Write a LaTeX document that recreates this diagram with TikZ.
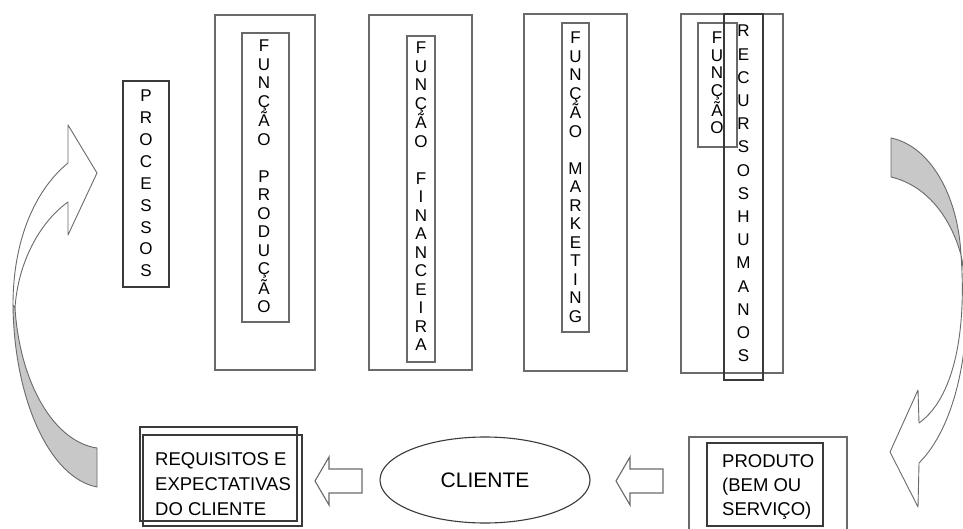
\documentclass[tikz,border=0pt]{standalone}
\usepackage{fontspec}
\setmainfont{Liberation Sans}
\usetikzlibrary{shapes.geometric}
\definecolor{ln}{HTML}{6A6A6A}
\definecolor{dk}{HTML}{3A3A3A}
\definecolor{gf}{HTML}{C8C8C8}
\begin{document}
\begin{tikzpicture}[x=1pt,y=-1pt,
  box/.style={draw=ln, line width=1.1pt, rectangle, inner sep=0pt},
  darkbox/.style={draw=dk, line width=1.3pt, rectangle, inner sep=0pt},
  vt/.style={align=center, inner sep=0pt},
  bt/.style={inner sep=0pt, anchor=base west, font=\fontsize{18.5}{24}\selectfont},
  band/.style={draw=ln, line width=0.9pt, line join=round},
  blockarrow/.style={draw=ln, line width=1.1pt, fill=white, line join=miter}]
\useasboundingbox (0,0) rectangle (963,529);
\clip (0,0) rectangle (963,529);
\fill[white] (0,0) rectangle (963,529);

% ---- PROCESSOS
\node[darkbox, line width=1.8pt, minimum width=46pt, minimum height=206pt] (proc) at (146,184) {};
\node[vt, font=\fontsize{17}{21.9}\selectfont] (tproc) at (146,183.5) {P\\R\\O\\C\\E\\S\\S\\O\\S};

% ---- Funcao producao
\node[box, minimum width=100pt, minimum height=355pt] (out1) at (265,192.5) {};
\node[box, minimum width=47pt, minimum height=289pt] (in1) at (265.5,177.5) {};
\node[vt, font=\fontsize{17}{18.5}\selectfont] (t1) at (264,176.5) {F\\U\\N\\Ç\\Ã\\O\\~\\P\\R\\O\\D\\U\\Ç\\Ã\\O};

% ---- Funcao financeira
\node[box, minimum width=103pt, minimum height=355pt] (out2) at (420.5,192.5) {};
\node[box, minimum width=28pt, minimum height=326pt] (in2) at (421,199) {};
\node[vt, font=\fontsize{17}{18.5}\selectfont] (t2) at (421,196.5) {F\\U\\N\\Ç\\Ã\\O\\~\\F\\I\\N\\A\\N\\C\\E\\I\\R\\A};

% ---- Funcao marketing
\node[box, minimum width=103pt, minimum height=357pt] (out3) at (575.5,192.5) {};
\node[box, minimum width=27pt, minimum height=309pt] (in3) at (575.5,177.5) {};
\node[vt, font=\fontsize{17}{18.5}\selectfont] (t3) at (575.5,177) {F\\U\\N\\Ç\\Ã\\O\\~\\M\\A\\R\\K\\E\\T\\I\\N\\G};

% ---- Funcao recursos humanos
\node[box, minimum width=102pt, minimum height=359pt] (out4) at (732,193.5) {};
\node[box, minimum width=39pt, minimum height=124pt] (in4) at (717.5,85) {};
\node[darkbox, minimum width=39pt, minimum height=366pt] (rh) at (743.5,197) {};
\node[vt, font=\fontsize{17}{17.6}\selectfont] (t4a) at (717,83) {F\\U\\N\\Ç\\Ã\\O};
\node[vt, font=\fontsize{17}{23.2}\selectfont] (t4b) at (743.5,193.5) {R\\E\\C\\U\\R\\S\\O\\S\\H\\U\\M\\A\\N\\O\\S};

% ---- Requisitos e expectativas
\node[darkbox, line width=1.1pt, minimum width=157pt, minimum height=94pt] (req) at (218.5,474) {};
\node[darkbox, line width=1.1pt, minimum width=159pt, minimum height=91pt] (req2) at (222.5,480.5) {};
\node[bt] (r1) at (155,465) {REQUISITOS E};
\node[bt] (r2) at (155,490) {EXPECTATIVAS};
\node[bt] (r3) at (155,515) {DO CLIENTE};

% ---- Cliente
\node[ellipse, draw=dk, line width=1.1pt, minimum width=210pt, minimum height=86pt, inner sep=0pt,
      font=\fontsize{21}{24}\selectfont] (cli) at (485,480) {CLIENTE};

% ---- Produto
\node[box, minimum width=158pt, minimum height=100pt] (prodout) at (768,487) {};
\node[darkbox, line width=1.1pt, minimum width=116pt, minimum height=83pt] (prodin) at (765,484.5) {};
\node[bt] (p1) at (722,467) {PRODUTO};
\node[bt] (p2) at (722,491) {(BEM OU};
\node[bt] (p3) at (722,515) {SERVIÇO)};

% ---- block arrows
\draw[blockarrow] (315,481) -- (329,457) -- (329,469) -- (362,469) -- (362,493) -- (329,493) -- (329,505) -- cycle;
\draw[blockarrow] (616,481) -- (630,457) -- (630,469) -- (663,469) -- (663,493) -- (630,493) -- (630,505) -- cycle;

% ---- left curved arrow
\filldraw[band, fill=gf] (13,305) .. controls (14,400) and (50,478) .. (97,487) -- (97,448)
   .. controls (55,442) and (20,385) .. (15,308) -- cycle;
\filldraw[band, fill=white] (13,305) .. controls (13,240) and (35,190) .. (68,163) -- (68,125) -- (97,173)
   -- (68,235) -- (68,202) .. controls (40,222) and (18,262) .. (15,308) -- cycle;

% ---- right curved arrow
\filldraw[band, fill=gf] (891,138) .. controls (930,146) and (958,195) .. (961,255)
   .. controls (950,215) and (925,185) .. (891,177) -- cycle;
\filldraw[band, fill=white] (961,255) .. controls (975,320) and (962,420) .. (919,463) -- (918,507)
   -- (890,452) -- (918,390) -- (919,423) .. controls (958,395) and (966,320) .. (961,255) -- cycle;
\end{tikzpicture}
\end{document}
